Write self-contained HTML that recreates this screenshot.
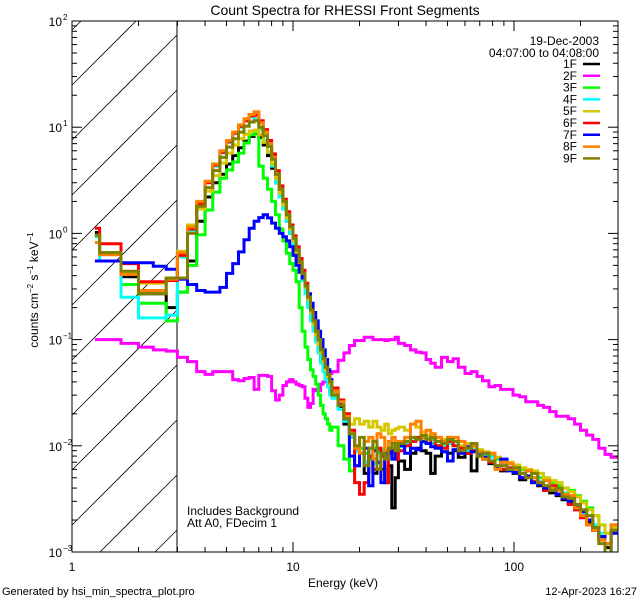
<!DOCTYPE html>
<html><head><meta charset="utf-8"><style>
body{margin:0;background:#fff;overflow:hidden;}
svg{display:block;font-family:"Liberation Sans",sans-serif;}
text{fill:#000;}
</style></head><body>
<svg id="chart" width="640" height="600" viewBox="0 0 640 600">
<defs><clipPath id="plotclip"><rect x="72" y="21" width="546" height="531"/></clipPath></defs>
<rect width="640" height="600" fill="#fff"/>
<text x="345" y="15" font-size="14" text-anchor="middle">Count Spectra for RHESSI Front Segments</text>
<g id="hatch"></g>
<line x1="177" y1="21" x2="177" y2="552" stroke="#000" stroke-width="1"/>
<g id="series" clip-path="url(#plotclip)"></g>
<rect x="72" y="21" width="546" height="531" fill="none" stroke="#000" stroke-width="1"/>
<g id="axes"></g>
<text x="343" y="587" font-size="12" text-anchor="middle">Energy (keV)</text>
<text transform="translate(38,290) rotate(-90)" font-size="12" text-anchor="middle">counts cm<tspan font-size="8" dy="-5">−2</tspan><tspan dy="5"> s</tspan><tspan font-size="8" dy="-5">−1</tspan><tspan dy="5"> keV</tspan><tspan font-size="8" dy="-5">−1</tspan></text>
<text x="187" y="515" font-size="12">Includes Background</text>
<text x="187" y="527" font-size="12">Att A0, FDecim 1</text>
<text x="2" y="595" font-size="11">Generated by hsi_min_spectra_plot.pro</text>
<text x="637" y="595" font-size="11" text-anchor="end">12-Apr-2023 16:27</text>
<text x="599" y="45" font-size="12" text-anchor="end">19-Dec-2003</text>
<text x="599" y="57" font-size="12" text-anchor="end">04:07:00 to 04:08:00</text>
<g id="legend"></g>
</svg>
<script>
const edges=[1.27,1.333,1.667,2,2.333,2.667,3,
3.333,3.667,4,4.333,4.667,5,5.333,5.667,6,6.333,6.667,7,7.333,7.667,8,8.333,8.667,9,9.333,9.667,10,10.333,10.667,11,11.333,11.667,12,12.333,12.667,13,13.333,13.667,14,14.333,14.667,15,
16,17,18,19,20,21,22,23,24,25,26,27,28,29,30,32,34,36,38,40,42,44,47,50,53,56,60,64,68,72,77,82,87,93,99,106,113,120,128,136,145,155,165,176,188,200,213,227,242,258,275,295];
const seriesNames=["1F","2F","3F","4F","5F","6F","7F","8F","9F"];
const seriesColors=["#000000","#ff00ff","#00ff00","#00ffff","#d4c800","#ff0000","#0000ff","#ff8000","#808000"];
const s1F=[1.02,0.65,0.39,0.27,0.27,0.2,
0.28,0.55,1.3,2.2,3.0,3.6,4.5,5.4,6.4,7.4,8.2,8.7,8.0,6.8,5.4,4.1,3.0,2.2,1.7,1.3,1.0,0.78,0.6,0.46,0.36,0.28,0.21,0.16,0.125,0.1,0.08,0.065,0.054,0.045,0.038,0.032,
0.03,0.023,0.016,0.012,0.009,0.0085,0.0055,0.0075,0.0055,0.007,0.006,0.0045,0.0065,0.0026,0.005,0.0072,0.006,0.0085,0.0095,0.009,0.0085,0.0055,0.008,0.0088,0.0085,0.009,0.0078,0.0085,0.0058,0.008,0.0075,0.0068,0.0062,0.0058,0.006,0.0055,0.0048,0.0052,0.0045,0.0042,0.0038,0.0036,0.0034,0.0031,0.0029,0.0025,0.0022,0.0019,0.0016,0.0013,0.0011,0.0007];
const s2F=[0.1,0.1,0.092,0.085,0.08,0.078,
0.068,0.062,0.05,0.047,0.05,0.05,0.05,0.042,0.041,0.043,0.044,0.034,0.046,0.046,0.045,0.033,0.027,0.03,0.037,0.04,0.042,0.04,0.038,0.037,0.036,0.028,0.023,0.025,0.034,0.033,0.033,0.038,0.04,0.042,0.045,0.048,
0.05,0.064,0.075,0.088,0.098,0.098,0.105,0.105,0.1,0.1,0.1,0.098,0.1,0.1,0.105,0.092,0.088,0.08,0.076,0.075,0.065,0.06,0.055,0.068,0.062,0.066,0.055,0.048,0.05,0.045,0.041,0.036,0.037,0.034,0.034,0.03,0.029,0.026,0.026,0.024,0.023,0.021,0.019,0.019,0.018,0.016,0.014,0.0126,0.0115,0.0095,0.0083,0.0078];
const s3F=[0.95,0.66,0.33,0.22,0.22,0.15,
0.28,0.5,0.97,1.66,2.45,3.3,3.95,4.7,5.7,7.1,8.5,8.8,4.3,3.3,2.6,2.0,1.5,1.1,0.85,0.65,0.52,0.45,0.35,0.2,0.12,0.085,0.065,0.052,0.045,0.038,0.03,0.024,0.02,0.018,0.016,0.014,
0.015,0.01,0.0075,0.0058,0.0065,0.0095,0.0085,0.0075,0.0095,0.009,0.0088,0.0085,0.0092,0.0095,0.009,0.0098,0.0102,0.011,0.0115,0.011,0.0118,0.0115,0.011,0.0105,0.0112,0.011,0.0098,0.0092,0.0098,0.0088,0.0082,0.008,0.0075,0.007,0.0068,0.0064,0.006,0.0058,0.0055,0.005,0.0047,0.0045,0.0042,0.004,0.0038,0.0034,0.003,0.0026,0.0022,0.0018,0.0015,0.0018];
const s4F=[0.93,0.55,0.25,0.16,0.16,0.17,
0.6,1.05,1.9,3.0,4.3,5.7,7.2,8.7,10.0,11.5,12.5,12.0,9.5,7.5,5.8,4.3,3.0,2.2,1.7,1.3,1.0,0.78,0.6,0.46,0.36,0.27,0.2,0.15,0.12,0.095,0.075,0.06,0.05,0.042,0.036,0.03,
0.028,0.022,0.017,0.012,0.009,0.0085,0.007,0.0095,0.0068,0.0085,0.0092,0.008,0.0088,0.0095,0.0085,0.0098,0.0105,0.011,0.0115,0.0108,0.012,0.0105,0.01,0.0098,0.0105,0.01,0.0095,0.009,0.0092,0.0085,0.008,0.0078,0.0065,0.0068,0.006,0.0058,0.0055,0.0052,0.005,0.0046,0.0042,0.004,0.0038,0.0036,0.003,0.0026,0.0023,0.002,0.0018,0.0015,0.0012,0.0016];
const s5F=[0.96,0.64,0.43,0.34,0.34,0.38,
0.68,1.2,1.7,2.5,3.5,4.6,5.7,6.8,7.8,8.6,9.2,9.4,8.5,7.2,5.8,4.5,3.3,2.4,1.85,1.4,1.1,0.85,0.66,0.52,0.4,0.31,0.24,0.18,0.14,0.11,0.09,0.075,0.062,0.052,0.045,0.038,
0.032,0.026,0.02,0.016,0.018,0.016,0.017,0.015,0.017,0.015,0.014,0.016,0.013,0.014,0.0145,0.015,0.014,0.016,0.015,0.0135,0.0125,0.013,0.012,0.0115,0.012,0.011,0.01,0.0105,0.0098,0.0092,0.0088,0.0085,0.0078,0.0072,0.007,0.0066,0.0062,0.006,0.0058,0.0055,0.005,0.0047,0.0045,0.004,0.0037,0.0033,0.0029,0.0025,0.0022,0.0018,0.0015,0.0017];
const s6F=[1.12,0.8,0.52,0.35,0.35,0.36,
0.62,1.1,1.9,3.0,4.4,5.8,7.3,8.8,10.2,11.5,12.8,13.0,11.5,9.5,7.5,5.6,3.9,2.8,2.1,1.6,1.2,0.95,0.75,0.58,0.45,0.34,0.26,0.2,0.16,0.125,0.1,0.082,0.068,0.056,0.047,0.04,
0.035,0.027,0.02,0.014,0.0045,0.0035,0.0045,0.008,0.006,0.0095,0.008,0.0045,0.0085,0.009,0.0075,0.009,0.01,0.011,0.012,0.011,0.0105,0.012,0.01,0.0095,0.011,0.01,0.0095,0.0085,0.009,0.008,0.0075,0.007,0.0065,0.006,0.0062,0.0056,0.005,0.0052,0.0046,0.0045,0.0038,0.0042,0.0035,0.0033,0.0028,0.0025,0.0021,0.0018,0.0016,0.0014,0.0012,0.0015];
const s7F=[0.55,0.55,0.53,0.53,0.49,0.46,
0.37,0.33,0.29,0.28,0.28,0.31,0.42,0.52,0.67,0.87,1.12,1.3,1.41,1.5,1.4,1.25,1.12,1.0,0.93,0.85,0.75,0.62,0.5,0.43,0.38,0.32,0.27,0.22,0.18,0.15,0.12,0.1,0.08,0.065,0.052,0.042,
0.033,0.025,0.018,0.008,0.0065,0.0085,0.0095,0.0042,0.009,0.007,0.0045,0.0085,0.0088,0.0075,0.0095,0.01,0.0085,0.0095,0.0092,0.011,0.0105,0.0098,0.0095,0.0088,0.0072,0.0092,0.0085,0.0098,0.0088,0.0082,0.0078,0.0072,0.0062,0.0075,0.0058,0.0056,0.005,0.0052,0.0045,0.0043,0.004,0.0038,0.0035,0.0032,0.003,0.0027,0.0024,0.002,0.0017,0.0014,0.0012,0.0015];
const s8F=[0.82,0.63,0.41,0.29,0.29,0.37,
0.66,1.15,2.0,3.1,4.5,6.0,7.5,9.0,10.5,12.0,13.2,14.0,11.0,9.0,7.0,5.2,3.6,2.6,2.0,1.5,1.15,0.9,0.7,0.54,0.42,0.32,0.25,0.19,0.15,0.12,0.10,0.08,0.066,0.055,0.047,0.04,
0.033,0.026,0.019,0.013,0.0095,0.0085,0.011,0.012,0.0075,0.013,0.012,0.009,0.011,0.012,0.0095,0.011,0.012,0.016,0.017,0.012,0.014,0.013,0.012,0.011,0.012,0.012,0.011,0.0095,0.01,0.0088,0.0075,0.0085,0.006,0.007,0.0068,0.006,0.0055,0.0058,0.005,0.0045,0.0047,0.004,0.0038,0.0035,0.0034,0.0026,0.0022,0.0018,0.0016,0.0013,0.0012,0.0018];
const s9F=[0.96,0.66,0.44,0.27,0.27,0.38,
0.38,1.0,1.8,2.7,3.9,5.2,6.5,7.8,9.0,10.2,11.2,11.5,10.0,8.3,6.6,5.0,3.6,2.6,2.0,1.5,1.15,0.9,0.7,0.54,0.42,0.32,0.25,0.19,0.15,0.12,0.1,0.08,0.066,0.055,0.047,0.04,
0.03,0.024,0.018,0.013,0.01,0.012,0.0065,0.0095,0.011,0.006,0.0085,0.0075,0.0095,0.0105,0.009,0.0105,0.011,0.012,0.0115,0.0125,0.0115,0.012,0.011,0.0105,0.0115,0.011,0.009,0.0095,0.0105,0.008,0.0085,0.0072,0.0065,0.0065,0.006,0.0062,0.0055,0.005,0.0055,0.0045,0.0042,0.0038,0.004,0.0033,0.0032,0.0028,0.0025,0.0022,0.0017,0.0012,0.0008,0.0016];
const seriesValues=[s1F,s2F,s3F,s4F,s5F,s6F,s7F,s8F,s9F];
const xMajorTicks=[1,10,100];
const xMajorLabels=["1","10","100"];
const yMajorExps=[-3,-2,-1,0,1,2];

const NS="http://www.w3.org/2000/svg";
const X0=72,X1=618,Y0=21,Y1=552,DEC_X=221,DEC_Y=106.2,XH=177;
function xs(e){return X0+DEC_X*Math.log10(e);}
function ys(v){return Y0+(2-Math.log10(Math.max(v,1e-5)))*DEC_Y;}
function mk(tag,attrs,parent){const el=document.createElementNS(NS,tag);for(const k in attrs)el.setAttribute(k,attrs[k]);parent.appendChild(el);return el;}

// hatch (lines y = yy - (x - X0)), clipped analytically to the hatched box
const hatch=document.getElementById('hatch');
for(let k=-2;k<12;k++){
  const yy=85+k*55;
  const xa=Math.max(X0,X0+yy-Y1), xb=Math.min(XH,X0+yy-Y0);
  if(xa>=xb)continue;
  const ln=mk('line',{x1:xa,y1:yy-(xa-X0),x2:xb,y2:yy-(xb-X0),stroke:'#000','stroke-width':0.8},hatch);
  
  
}

// series
const sg=document.getElementById('series');
seriesValues.forEach((vals,si)=>{
  const n=Math.min(vals.length,edges.length-1);
  let d='M'+xs(edges[0]).toFixed(1)+','+Math.min(ys(vals[0]),Y1+5).toFixed(1);
  for(let i=0;i<n;i++){
    if(i>0)d+=' V'+Math.min(ys(vals[i]),Y1+5).toFixed(1);
    d+=' H'+xs(edges[i+1]).toFixed(1);
  }
  const p=mk('path',{d:d,fill:'none',stroke:seriesColors[si],'stroke-width':3,'stroke-linejoin':'miter'},sg);
  
  
});

// axes ticks
const ax=document.getElementById('axes');
for(let dec=0;dec<3;dec++){
  for(let m=1;m<10;m++){
    const e=m*Math.pow(10,dec);const x=xs(e);
    if(x>X1+0.5)continue;
    const L=(m===1)?10:5;
    const t1=mk('line',{x1:x,y1:Y1,x2:x,y2:Y1-L,stroke:'#000','stroke-width':1},ax);
    
    
    const t2=mk('line',{x1:x,y1:Y0,x2:x,y2:Y0+L,stroke:'#000','stroke-width':1},ax);
    
    
  }
}
xMajorTicks.forEach((e,i)=>{
  const t=mk('text',{x:xs(e),y:571,'font-size':12,'text-anchor':'middle'},ax);
  t.textContent=xMajorLabels[i];
  
  
});
yMajorExps.forEach(ex=>{
  for(let m=1;m<10;m++){
    if(ex===2&&m>1)continue;
    const y=ys(m*Math.pow(10,ex));
    const L=(m===1)?10:5;
    const a=mk('line',{x1:X0,y1:y,x2:X0+L,y2:y,stroke:'#000','stroke-width':1},ax);
    
    
    const b=mk('line',{x1:X1,y1:y,x2:X1-L,y2:y,stroke:'#000','stroke-width':1},ax);
    
    
  }
  const t=mk('text',{x:62,y:ys(Math.pow(10,ex))+5,'font-size':12,'text-anchor':'end'},ax);
  t.textContent='10';
  
  
  const sup=mk('text',{x:63,y:ys(Math.pow(10,ex))-1,'font-size':8},ax);
  sup.textContent=(ex<0?'−'+(-ex):String(ex));
  
  
});

// legend
const lg=document.getElementById('legend');
seriesNames.forEach((nm,i)=>{
  const y=64+i*11.8;
  const g=mk('g',{},lg);
  
  
  const t=mk('text',{x:577,y:y+4,'font-size':12,'text-anchor':'end'},g);
  t.textContent=nm;
  mk('line',{x1:583,y1:y,x2:600,y2:y,stroke:seriesColors[i],'stroke-width':2.5},g);
});
</script>
</body></html>
